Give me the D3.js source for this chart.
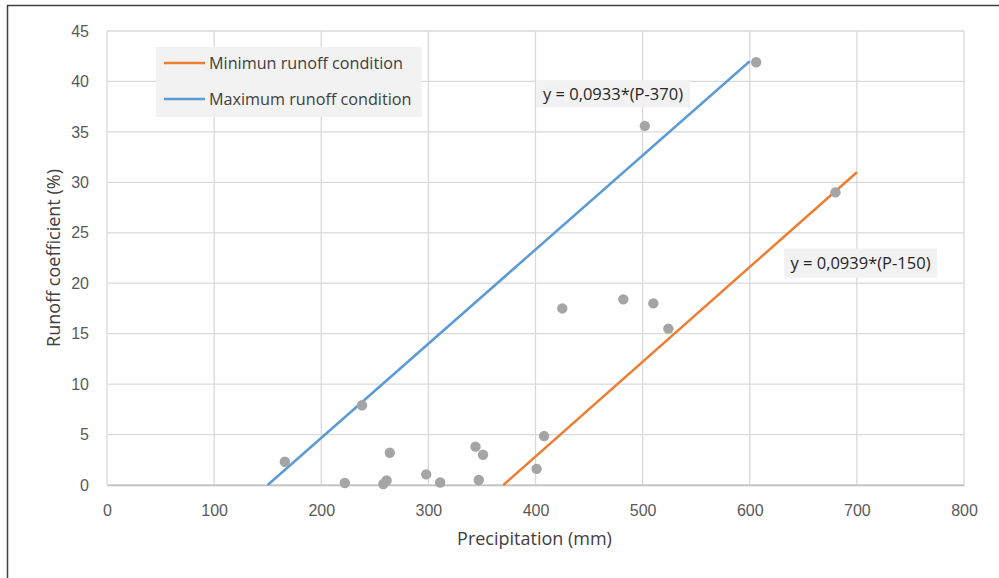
<!DOCTYPE html>
<html>
<head>
<meta charset="utf-8">
<script src="https://cdn.jsdelivr.net/npm/d3@7"></script>
<style>
  html, body { margin: 0; padding: 0; background: #fff; }
  svg { display: block; font-family: "Open Sans", "Noto Sans", sans-serif; }
</style>
</head>
<body>
<div id="chart"></div>
<script>
// observed points (precipitation mm, runoff coefficient %)
const precip = [166, 238, 222, 258, 261, 264, 298, 311, 344, 351, 347,
                425, 482, 510, 524, 408, 401, 606, 502, 680];
const runoff = [2.3, 7.9, 0.2, 0.1, 0.45, 3.2, 1.05, 0.25, 3.8, 3.0, 0.5,
                17.5, 18.4, 18.0, 15.5, 4.85, 1.6, 41.9, 35.6, 29.0];

// envelope lines, endpoints
const maxLineX = [150, 600];
const maxLineY = [0, 42];
const minLineX = [370, 700];
const minLineY = [0, 31];

const xTicks = [0, 100, 200, 300, 400, 500, 600, 700, 800];
const yTicks = [0, 5, 10, 15, 20, 25, 30, 35, 40, 45];

const seriesNames = ['Minimun runoff condition', 'Maximum runoff condition'];
const seriesColors = ['#ed7d31', '#5b9bd5'];
const eqLabels = ['y = 0,0933*(P-370)', 'y = 0,0939*(P-150)'];

const W = 999, H = 578;
const margin = { top: 31, right: 35, bottom: 93, left: 107 };
const width = W - margin.left - margin.right;
const height = H - margin.top - margin.bottom;

const svg = d3.select('#chart').append('svg')
  .attr('width', W)
  .attr('height', H);

// outer frame
svg.append('path')
  .attr('d', `M7.5,${H} L7.5,5.5 L${W},5.5`)
  .attr('fill', 'none')
  .attr('stroke', '#3f3f3f')
  .attr('stroke-width', 1.5);

const g = svg.append('g')
  .attr('transform', `translate(${margin.left},${margin.top})`);

const x = d3.scaleLinear().domain([0, 800]).range([0, width]);
const y = d3.scaleLinear().domain([0, 45]).range([height, 0]);

// grid
g.append('g')
  .selectAll('line.vg')
  .data(xTicks)
  .join('line')
  .attr('x1', d => x(d)).attr('x2', d => x(d))
  .attr('y1', 0).attr('y2', height)
  .attr('stroke', '#d9d9d9').attr('stroke-width', 1.3);

g.append('g')
  .selectAll('line.hg')
  .data(yTicks)
  .join('line')
  .attr('x1', 0).attr('x2', width)
  .attr('y1', d => y(d)).attr('y2', d => y(d))
  .attr('stroke', '#d9d9d9').attr('stroke-width', 1.3);

// axes
const xAxis = g.append('g')
  .attr('transform', `translate(0,${height})`)
  .call(d3.axisBottom(x).tickValues(xTicks).tickSize(0).tickPadding(19.5));
xAxis.select('.domain').attr('stroke', '#bfbfbf').attr('stroke-width', 1.5);

const yAxis = g.append('g')
  .call(d3.axisLeft(y).tickValues(yTicks).tickSize(0).tickPadding(18));
yAxis.select('.domain').remove();

g.selectAll('.tick text')
  .attr('fill', '#595959')
  .style('font-size', '16px');

// axis titles
svg.append('text')
  .attr('x', margin.left + width / 2 - 1)
  .attr('y', 545)
  .attr('text-anchor', 'middle')
  .attr('fill', '#404040')
  .style('font-size', '18px')
  .text('Precipitation (mm)');

svg.append('text')
  .attr('transform', `translate(60,${margin.top + height / 2}) rotate(-90)`)
  .attr('text-anchor', 'middle')
  .attr('fill', '#404040')
  .style('font-size', '18px')
  .text('Runoff coefficient (%)');

// envelope lines
const line = d3.line().x(d => x(d[0])).y(d => y(d[1]));

g.append('path')
  .datum(maxLineX.map((v, i) => [v, maxLineY[i]]))
  .attr('d', line)
  .attr('fill', 'none')
  .attr('stroke', seriesColors[1])
  .attr('stroke-width', 2.5);

g.append('path')
  .datum(minLineX.map((v, i) => [v, minLineY[i]]))
  .attr('d', line)
  .attr('fill', 'none')
  .attr('stroke', seriesColors[0])
  .attr('stroke-width', 2.5);

// points
g.selectAll('circle.pt')
  .data(precip.map((p, i) => ({ p, r: runoff[i] })))
  .join('circle')
  .attr('class', 'pt')
  .attr('cx', d => x(d.p))
  .attr('cy', d => y(d.r))
  .attr('r', 5.2)
  .attr('fill', '#a5a5a5');

// equation labels
const eqPos = [[613, 94, 154, 27], [860.5, 263, 153, 29]];
eqLabels.forEach((txt, i) => {
  const [cx, cy, bw, bh] = eqPos[i];
  svg.append('rect')
    .attr('x', cx - bw / 2).attr('y', cy - bh / 2)
    .attr('width', bw).attr('height', bh)
    .attr('fill', '#f2f2f2');
  svg.append('text')
    .attr('x', cx).attr('y', cy)
    .attr('dy', '0.35em')
    .attr('text-anchor', 'middle')
    .attr('fill', '#262626')
    .style('font-size', '16.5px')
    .text(txt);
});

// legend
const legend = svg.append('g').attr('transform', 'translate(156,47)');
legend.append('rect')
  .attr('width', 266).attr('height', 70)
  .attr('fill', '#f2f2f2');
seriesNames.forEach((name, i) => {
  const ly = 16 + i * 36;
  legend.append('line')
    .attr('x1', 8).attr('x2', 49)
    .attr('y1', ly).attr('y2', ly)
    .attr('stroke', seriesColors[i])
    .attr('stroke-width', 2.5);
  legend.append('text')
    .attr('x', 53).attr('y', ly)
    .attr('dy', '0.35em')
    .attr('fill', '#404040')
    .style('font-size', '16.2px')
    .text(name);
});
</script>
</body>
</html>
